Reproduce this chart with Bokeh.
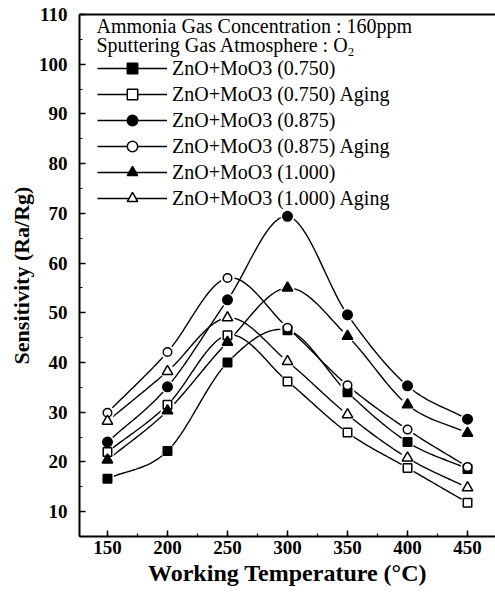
import numpy as np
from bokeh.plotting import figure
from bokeh.models import Range1d, LinearAxis, Legend, LegendItem, Label, FixedTicker
from bokeh.embed import file_html
from bokeh.resources import INLINE

# ---------------- data ----------------
temps = [150, 200, 250, 300, 350, 400, 450]
zm_0750 = [16.6, 22.2, 40.0, 46.5, 34.0, 24.0, 18.6]
zm_0750_aging = [22.0, 31.5, 45.5, 36.2, 25.9, 18.8, 11.8]
zm_0875 = [24.0, 35.1, 52.6, 69.4, 49.6, 35.3, 28.6]
zm_0875_aging = [29.9, 42.1, 57.0, 47.0, 35.4, 26.5, 19.0]
zm_1000 = [20.4, 30.3, 44.1, 55.0, 45.3, 31.5, 25.8]
zm_1000_aging = [28.2, 38.2, 49.0, 40.2, 29.5, 20.8, 14.8]
labels = ["ZnO+MoO3 (0.750)", "ZnO+MoO3 (0.750) Aging",
          "ZnO+MoO3 (0.875)", "ZnO+MoO3 (0.875) Aging",
          "ZnO+MoO3 (1.000)", "ZnO+MoO3 (1.000) Aging"]
y_ticks = [10, 20, 30, 40, 50, 60, 70, 80, 90, 100, 110]
header1 = "Ammonia Gas Concentration : 160ppm"
header2 = "Sputtering Gas Atmosphere : O\u2082"

series = [zm_0750, zm_0750_aging, zm_0875, zm_0875_aging, zm_1000, zm_1000_aging]
markers = ["square", "square", "circle", "circle", "triangle", "triangle"]
filled = [True, False, True, False, True, False]
sizes = [8.5, 8.5, 9.5, 8.5, 10.5, 10.5]


def smooth(xs, ys, n=30):
    """Catmull-Rom curve through the data points (rendering only)."""
    x = np.asarray(xs, float)
    y = np.asarray(ys, float)
    px = np.concatenate([[2 * x[0] - x[1]], x, [2 * x[-1] - x[-2]]])
    py = np.concatenate([[2 * y[0] - y[1]], y, [2 * y[-1] - y[-2]]])
    ox, oy = [], []
    t = np.linspace(0, 1, n, endpoint=False)
    for i in range(1, len(px) - 2):
        for arr, out in ((px, ox), (py, oy)):
            p0, p1, p2, p3 = arr[i - 1], arr[i], arr[i + 1], arr[i + 2]
            out.extend(0.5 * ((2 * p1) + (-p0 + p2) * t +
                              (2 * p0 - 5 * p1 + 4 * p2 - p3) * t ** 2 +
                              (-p0 + 3 * p1 - 3 * p2 + p3) * t ** 3))
    ox.append(x[-1])
    oy.append(y[-1])
    return ox, oy


SERIF = "Liberation Serif"

p = figure(width=495, height=593,
           x_range=Range1d(126.7, 473.3), y_range=Range1d(5, 110),
           output_backend="svg", toolbar_location=None,
           min_border_left=79, min_border_right=0,
           min_border_top=14, min_border_bottom=57)
p.background_fill_color = "white"
p.border_fill_color = "white"
p.outline_line_color = None
p.xgrid.visible = False
p.ygrid.visible = False

# axes
for ax in (p.xaxis[0], p.yaxis[0]):
    ax.axis_line_width = 2
    ax.axis_line_color = "black"
    ax.major_tick_in = 6
    ax.major_tick_out = 0
    ax.minor_tick_in = 3
    ax.minor_tick_out = 0
    ax.major_tick_line_width = 1.5
    ax.minor_tick_line_width = 1.2
    ax.major_label_text_font = SERIF
    ax.major_label_text_font_style = "bold"
    ax.major_label_text_font_size = "19px"
    ax.major_label_text_color = "black"
    ax.axis_label_text_font = SERIF
    ax.axis_label_text_font_style = "bold"
    ax.axis_label_text_color = "black"

p.xaxis.ticker = FixedTicker(ticks=temps, minor_ticks=list(np.arange(125, 476, 25)))
p.yaxis.ticker = FixedTicker(ticks=y_ticks, minor_ticks=list(np.arange(5, 111, 5)))
p.xaxis.axis_label = "Working Temperature (\u00b0C)"
p.xaxis.axis_label_text_font_size = "24px"
p.xaxis.major_label_standoff = 4
p.xaxis.axis_label_standoff = 3
p.yaxis.axis_label = "Sensitivity (Ra/Rg)"
p.yaxis.axis_label_text_font_size = "22px"
p.yaxis.major_label_standoff = 12
p.yaxis.axis_label_standoff = 2

top = LinearAxis(ticker=FixedTicker(ticks=[]), axis_line_width=2,
                 major_tick_in=0, major_tick_out=0, minor_tick_in=0, minor_tick_out=0,
                 major_label_text_font_size="0px", major_label_standoff=0)
p.add_layout(top, "above")

# curves
line_rs = []
for vals in series:
    cx, cy = smooth(temps, vals)
    line_rs.append(p.line(cx, cy, line_color="black", line_width=1.4))

# small gaps around the markers
for vals in series:
    p.scatter(temps, vals, marker="circle", size=14, fill_color="white", line_color=None)

mark_rs = []
for vals, m, f, s in zip(series, markers, filled, sizes):
    mark_rs.append(p.scatter(temps, vals, marker=m, size=s,
                             fill_color="black" if f else "white",
                             line_color="black", line_width=1.5))

items = [LegendItem(label=lab, renderers=[lr, mr])
         for lab, lr, mr in zip(labels, line_rs, mark_rs)]
legend = Legend(items=items, location=(18, 325), padding=0, margin=0, spacing=0,
                glyph_width=70, glyph_height=26, label_height=26, label_standoff=5,
                label_text_font=SERIF, label_text_font_size="20px",
                label_text_color="black",
                border_line_color=None, background_fill_alpha=0)
p.add_layout(legend)

for txt, yy in ((header1, 511), (header2, 492)):
    p.add_layout(Label(x=17, y=yy, x_units="screen", y_units="screen", text=txt,
                       text_font=SERIF, text_font_size="20px", text_baseline="middle",
                       text_color="black"))

open("out.html", "w").write(file_html(p, INLINE))
